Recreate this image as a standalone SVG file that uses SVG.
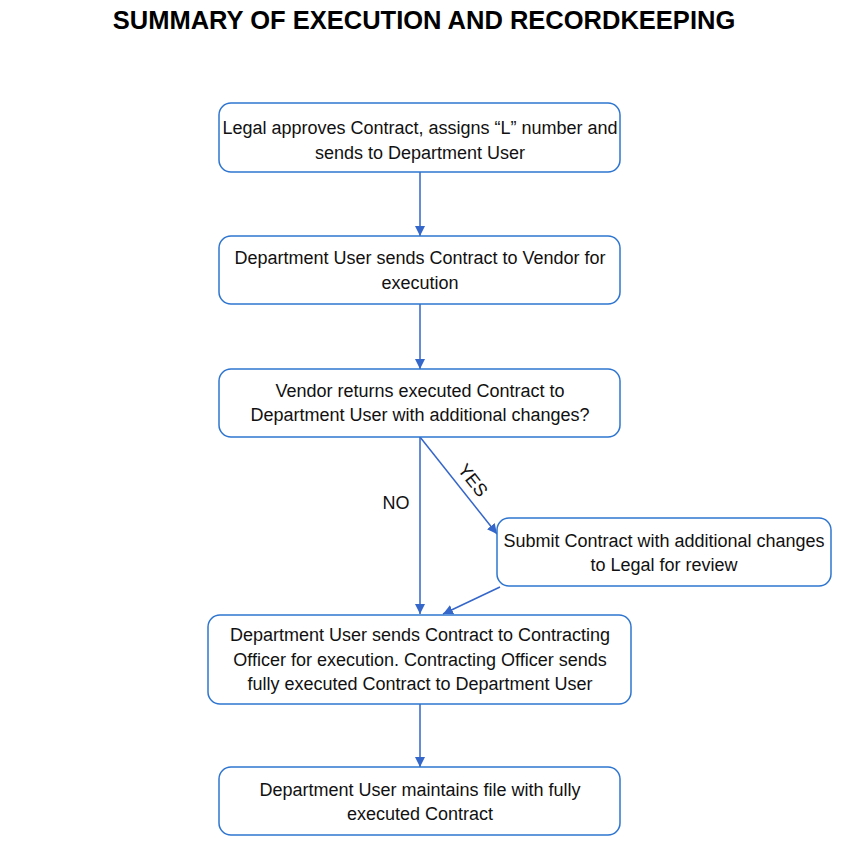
<svg xmlns="http://www.w3.org/2000/svg" width="856" height="844" viewBox="0 0 856 844">
<style>
.box{fill:#fff;stroke:#2e75d0;stroke-width:1.5}
.t{font-family:"Liberation Sans",Arial,sans-serif;font-size:18px;fill:#111;text-anchor:middle}
.title{font-family:"Liberation Sans",Arial,sans-serif;font-size:25.5px;font-weight:bold;fill:#000;text-anchor:middle}
.c{stroke:#3566c9;stroke-width:1.5;fill:none;marker-end:url(#ah)}
</style>
<defs>
<marker id="ah" viewBox="0 0 10 10" refX="10" refY="5" markerWidth="10" markerHeight="10" markerUnits="userSpaceOnUse" orient="auto">
<path d="M0,0 L10,5 L0,10 z" fill="#3566c9"/>
</marker>
</defs>
<rect width="856" height="844" fill="#fff"/>
<text class="title" x="424" y="29">SUMMARY OF EXECUTION AND RECORDKEEPING</text>
<g id="connectors">
<line class="c" x1="420" y1="172" x2="420" y2="236"/>
<line class="c" x1="420" y1="304" x2="420" y2="369"/>
<line class="c" x1="420" y1="437" x2="420" y2="614"/>
<line class="c" x1="420" y1="437" x2="497" y2="534"/>
<line class="c" x1="500" y1="587" x2="443" y2="614"/>
<line class="c" x1="420" y1="704" x2="420" y2="767"/>
<text class="t" x="396" y="509">NO</text>
<text class="t" x="0" y="0" transform="translate(468,484) rotate(52)">YES</text>
</g>
<g id="n1">
<rect class="box" x="219" y="103" width="401" height="69" rx="12"/>
<text class="t" x="420" y="134">Legal approves Contract, assigns “L” number and</text>
<text class="t" x="420" y="159">sends to Department User</text>
</g>
<g id="n2">
<rect class="box" x="219" y="236" width="401" height="68" rx="12"/>
<text class="t" x="420" y="264">Department User sends Contract to Vendor for</text>
<text class="t" x="420" y="289">execution</text>
</g>
<g id="n3">
<rect class="box" x="219" y="369" width="401" height="68" rx="12"/>
<text class="t" x="420" y="397">Vendor returns executed Contract to</text>
<text class="t" x="420" y="421">Department User with additional changes?</text>
</g>
<g id="n4">
<rect class="box" x="497" y="518" width="334" height="68" rx="12"/>
<text class="t" x="664" y="547">Submit Contract with additional changes</text>
<text class="t" x="664" y="571">to Legal for review</text>
</g>
<g id="n5">
<rect class="box" x="208" y="615" width="423" height="89" rx="12"/>
<text class="t" x="420" y="641">Department User sends Contract to Contracting</text>
<text class="t" x="420" y="666">Officer for execution. Contracting Officer sends</text>
<text class="t" x="420" y="690">fully executed Contract to Department User</text>
</g>
<g id="n6">
<rect class="box" x="219" y="767" width="401" height="68" rx="12"/>
<text class="t" x="420" y="796">Department User maintains file with fully</text>
<text class="t" x="420" y="820">executed Contract</text>
</g>
</svg>
